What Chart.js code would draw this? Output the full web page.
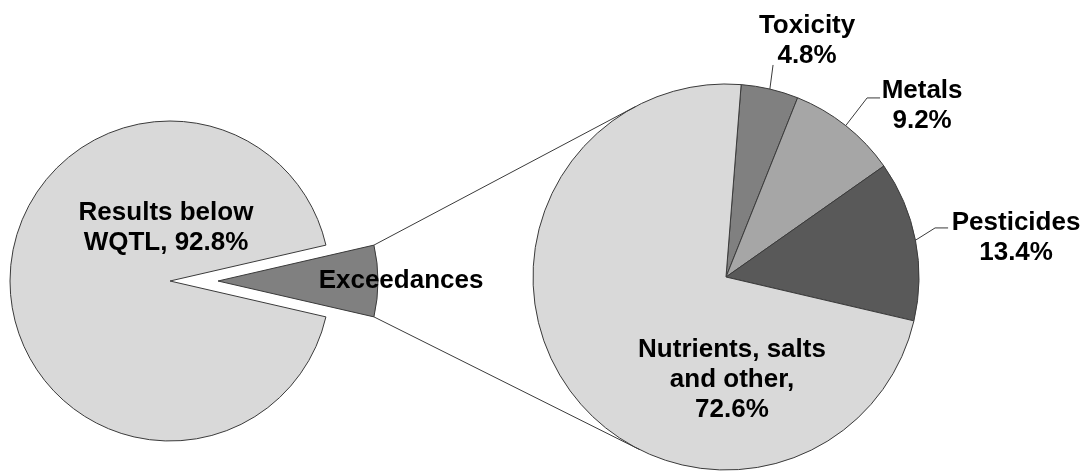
<!DOCTYPE html>
<html>
<head>
<meta charset="utf-8">
<script src="https://cdn.jsdelivr.net/npm/chart.js@4.4.0/dist/chart.umd.min.js"></script>
<style>
  body { margin: 0; background: #fff; }
  #wrap { position: relative; width: 1091px; height: 475px; }
  #wrap canvas { position: absolute; left: 0; top: 0; }
</style>
</head>
<body>
<div id="wrap">
  <canvas id="mainPie" width="1091" height="475"></canvas>
  <canvas id="subPie" width="1091" height="475"></canvas>
</div>
<script>
// Data
const mainCategories = ["Exceedances", "Results below WQTL"];
const mainValues = [7.2, 92.8];
const subCategories = ["Toxicity", "Metals", "Pesticides", "Nutrients, salts and other"];
const subValues = [4.8, 9.2, 13.4, 72.6];

// Label text lines (value added where needed)
const mainLabelLines = [["Exceedances"], ["Results below", "WQTL, " + mainValues[1] + "%"]];
const subLabelLines = [
  ["Toxicity", subValues[0] + "%"],
  ["Metals", subValues[1] + "%"],
  ["Pesticides", subValues[2] + "%"],
  ["Nutrients, salts", "and other,", subValues[3] + "%"]
];

const mainColors = ["#808080", "#d9d9d9"];
const subColors = ["#808080", "#a6a6a6", "#595959", "#d9d9d9"];
const edgeColor = "#3a3a3a";
const labelFont = 'bold 26px "Liberation Sans", Arial, sans-serif';
const lineHeight = 30;

// label centre relative to its arc centre, in radius units
const mainLabelPos = [[1.144, 0], [-0.025, -0.331]];
const subLabelPos = [[0.42, -1.223], [1.016, -0.889], [1.503, -0.205], [0.031, 0.534]];
// leader line points relative to label centre (px), null = no leader
const subLeaders = [[[-34, 24]], [[-55, -7.5], [-42, -7.5]], [[-81, -9.5], [-68, -9.5]], null];

const explodeDist = 48;

function drawLabel(ctx, lines, cx, cy) {
  ctx.font = labelFont;
  ctx.fillStyle = "#000";
  ctx.textAlign = "center";
  ctx.textBaseline = "middle";
  const top = cy - (lines.length - 1) * lineHeight / 2;
  lines.forEach((t, i) => ctx.fillText(t, cx, top + i * lineHeight));
}

// move the exceedances slice out of the main pie
const explodePlugin = {
  id: "explode",
  afterDatasetsUpdate(chart) {
    const arc = chart.getDatasetMeta(0).data[0];
    const mid = (arc.startAngle + arc.endAngle) / 2;
    arc.x += Math.cos(mid) * explodeDist;
    arc.y += Math.sin(mid) * explodeDist;
  }
};

const mainLabelPlugin = {
  id: "mainLabels",
  afterDraw(chart) {
    const ctx = chart.ctx;
    ctx.save();
    chart.getDatasetMeta(0).data.forEach((arc, i) => {
      const r = arc.outerRadius;
      drawLabel(ctx, mainLabelLines[i], arc.x + mainLabelPos[i][0] * r, arc.y + mainLabelPos[i][1] * r);
    });
    ctx.restore();
  }
};

const mainChart = new Chart(document.getElementById("mainPie"), {
  type: "pie",
  data: {
    labels: mainCategories,
    datasets: [{
      data: mainValues,
      backgroundColor: mainColors,
      borderColor: edgeColor,
      borderWidth: 1
    }]
  },
  options: {
    responsive: false,
    animation: false,
    events: [],
    radius: 160,
    rotation: 90 - mainValues[0] * 3.6 / 2,
    layout: { padding: { left: 0, right: 751, top: 87, bottom: 0 } },
    plugins: { legend: { display: false }, tooltip: { enabled: false } }
  },
  plugins: [explodePlugin, mainLabelPlugin]
});

// connector lines + labels for the second pie
const subLabelPlugin = {
  id: "subLabels",
  afterDraw(chart) {
    const ctx = chart.ctx;
    ctx.save();
    const arcs = chart.getDatasetMeta(0).data;
    const c = arcs[0];
    const R = c.outerRadius;

    // tangent lines from the exploded slice to the second pie
    const ex = mainChart.getDatasetMeta(0).data[0];
    const ends = [[ex.startAngle, 1], [ex.endAngle, -1]];
    ctx.strokeStyle = edgeColor;
    ctx.lineWidth = 1;
    ends.forEach(([a, sgn]) => {
      const px = ex.x + Math.cos(a) * ex.outerRadius;
      const py = ex.y + Math.sin(a) * ex.outerRadius;
      const d = Math.hypot(px - c.x, py - c.y);
      const th = Math.atan2(py - c.y, px - c.x);
      const t = th + sgn * Math.acos(R / d);
      ctx.beginPath();
      ctx.moveTo(px, py);
      ctx.lineTo(c.x + Math.cos(t) * R, c.y + Math.sin(t) * R);
      ctx.stroke();
    });

    arcs.forEach((arc, i) => {
      const lx = arc.x + subLabelPos[i][0] * R;
      const ly = arc.y + subLabelPos[i][1] * R;
      if (subLeaders[i]) {
        const mid = (arc.startAngle + arc.endAngle) / 2;
        ctx.beginPath();
        ctx.moveTo(arc.x + Math.cos(mid) * R, arc.y + Math.sin(mid) * R);
        subLeaders[i].forEach(p => ctx.lineTo(lx + p[0], ly + p[1]));
        ctx.stroke();
      }
      drawLabel(ctx, subLabelLines[i], lx, ly);
    });
    ctx.restore();
  }
};

new Chart(document.getElementById("subPie"), {
  type: "pie",
  data: {
    labels: subCategories,
    datasets: [{
      data: subValues,
      backgroundColor: subColors,
      borderColor: edgeColor,
      borderWidth: 1
    }]
  },
  options: {
    responsive: false,
    animation: false,
    events: [],
    radius: 193,
    rotation: 4.5,
    layout: { padding: { left: 361, right: 0, top: 79, bottom: 0 } },
    plugins: { legend: { display: false }, tooltip: { enabled: false } }
  },
  plugins: [subLabelPlugin]
});
</script>
</body>
</html>
